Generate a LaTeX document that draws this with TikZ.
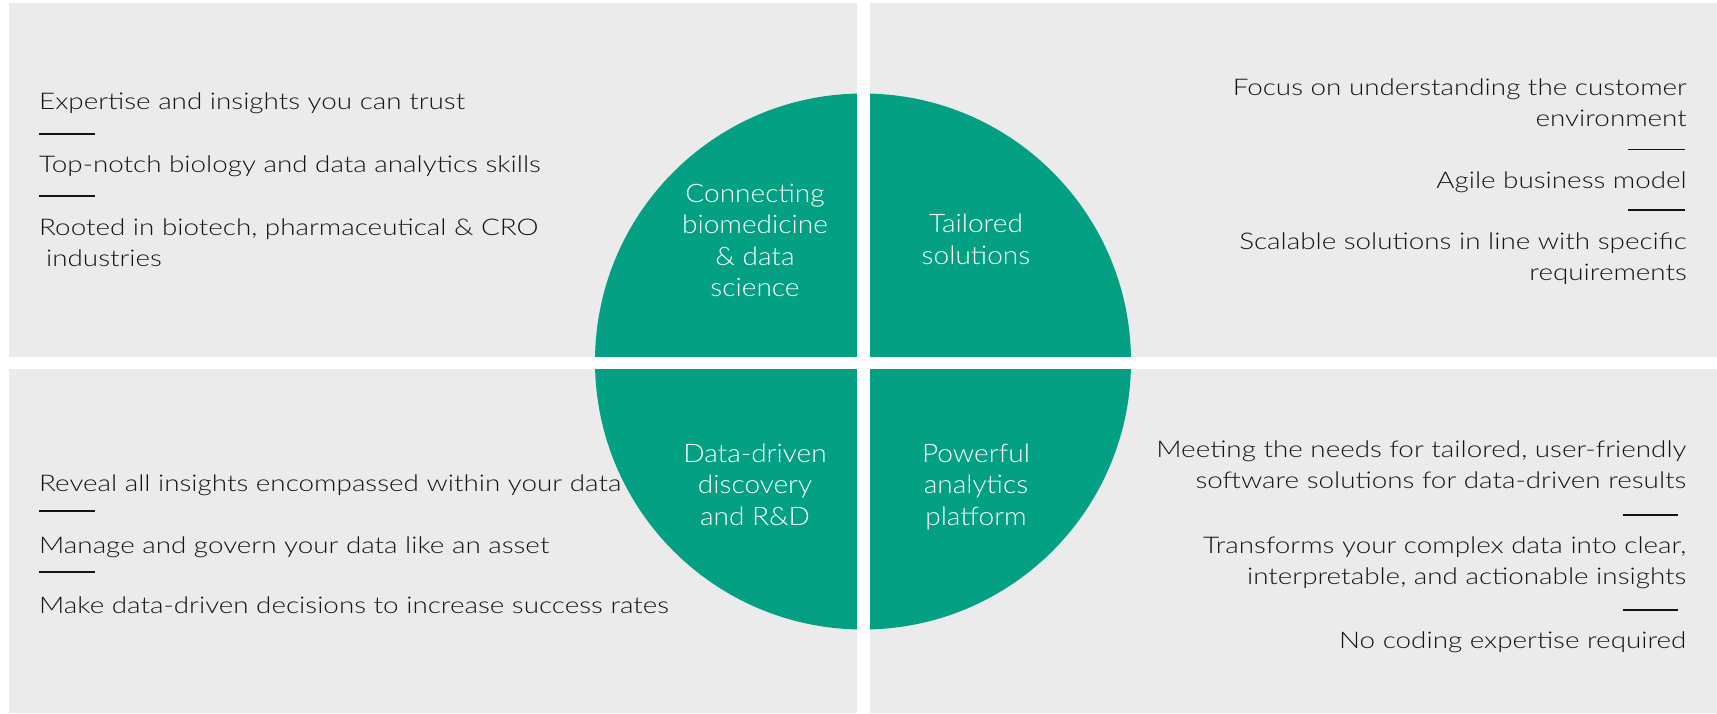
\documentclass[tikz,border=0pt]{standalone}
\usepackage{fontspec}
\setmainfont{Lato}[UprightFont=* Light, FakeStretch=1.21]
\newfontfamily\hubfont{Lato}[UprightFont=* Light, FakeStretch=1.1]
\definecolor{panelgray}{HTML}{EBEBEB}
\definecolor{hubgreen}{HTML}{03A084}
\definecolor{inktext}{HTML}{141414}

\begin{document}
\begin{tikzpicture}[x=1pt, y=-1pt,
    hub/.style={text=white, align=center, inner sep=0pt, anchor=base,
        font=\hubfont\fontsize{25.5}{31.5}\selectfont},
    itemL/.style={text=inktext, align=left, inner sep=0pt, anchor=base west,
        font=\fontsize{23}{31}\selectfont},
    itemR/.style={text=inktext, align=right, inner sep=0pt, anchor=base east,
        font=\fontsize{23}{31}\selectfont},
    rule/.style={inktext, line width=1.6pt}]
    \useasboundingbox (0,0) rectangle (1717,713);

    % panels, hub and the white cross
    \fill[panelgray] (9,3) rectangle (1717,713);
    \fill[hubgreen] (863,361.5) circle[radius=268pt];
    \fill[white] (856.5,0) rectangle (869.5,713);
    \fill[white] (0,356.5) rectangle (1717,369);

    % hub labels (anchored on their last line)
    \node[hub] (hubTL) at (755,296.7) {Connecting\\biomedicine\\\& data\\science};
    \node[hub] (hubTR) at (976,264) {Tailored\\solutions};
    \node[hub] (hubBL) at (755,525) {Data-driven\\discovery\\and R\&D};
    \node[hub] (hubBR) at (976,525) {Powerful\\analytics\\platform};

    % top left
    \node[itemL] (tl1) at (39,109.3) {Expertise and insights you can trust};
    \node[itemL] (tl2) at (39,172.7) {Top-notch biology and data analytics skills};
    \node[itemL] (tl3) at (39,266.7) {Rooted in biotech, pharmaceutical \& CRO\\\hspace*{0.3em}industries};
    \draw[rule] (39,134) -- (95,134);
    \draw[rule] (39,196) -- (95,196);

    % top right
    \node[itemR] (tr1) at (1687,126.7) {Focus on understanding the customer\\environment};
    \node[itemR] (tr2) at (1687,188.3) {Agile business model};
    \node[itemR] (tr3) at (1687,280.7) {Scalable solutions in line with specific\\requirements};
    \draw[rule] (1628,149.3) -- (1685,149.3);
    \draw[rule] (1628,210) -- (1685,210);

    % bottom left
    \node[itemL] (bl1) at (39,491.7) {Reveal all insights encompassed within your data};
    \node[itemL] (bl2) at (39,553.3) {Manage and govern your data like an asset};
    \node[itemL] (bl3) at (39,613.3) {Make data-driven decisions to increase success rates};
    \draw[rule] (39,510.7) -- (95,510.7);
    \draw[rule] (39,571.7) -- (95,571.7);

    % bottom right
    \node[itemR] (br1) at (1686.5,488.3) {Meeting the needs for tailored, user-friendly\\software solutions for data-driven results};
    \node[itemR] (br2) at (1686.5,584.3) {Transforms your complex data into clear,\\interpretable, and actionable insights};
    \node[itemR] (br3) at (1686.5,648.3) {No coding expertise required};
    \draw[rule] (1622.6,515) -- (1677.7,515);
    \draw[rule] (1622.6,610) -- (1677.7,610);
\end{tikzpicture}
\end{document}
